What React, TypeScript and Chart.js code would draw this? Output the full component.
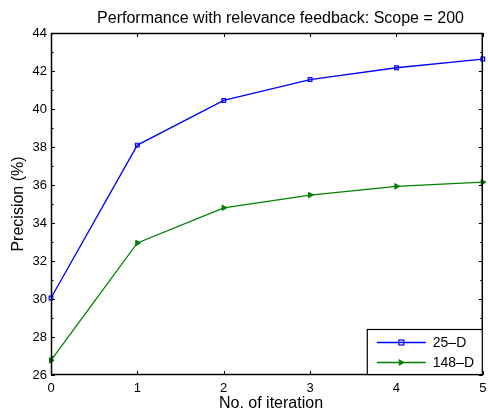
import React, { useEffect, useRef } from "react";
import { Chart, registerables } from "chart.js";

Chart.register(...registerables);

const iterations = [0, 1, 2, 3, 4, 5];
const precision25D = [30.05, 38.1, 40.45, 41.55, 42.17, 42.63];
const precision148D = [26.77, 32.95, 34.8, 35.47, 35.93, 36.15];
const seriesNames = ["25\u2013D", "148\u2013D"];
const yMin = 26;
const yMax = 44;
const yStep = 2;
const xMin = 0;
const xMax = 5;
const titleText = "Performance with relevance feedback: Scope = 200";
const xTitle = "No. of iteration";
const yTitle = "Precision (%)";

const FONT = '"Liberation Sans", Arial, Helvetica, sans-serif';
const BLUE = "#0000ff";
const GREEN = "#008000";

function drawSquare(ctx: CanvasRenderingContext2D, x: number, y: number, color: string) {
  ctx.save();
  ctx.strokeStyle = color;
  ctx.lineWidth = 1.2;
  ctx.strokeRect(x - 2.5, y - 2.5, 5, 5);
  ctx.restore();
}

function drawTri(ctx: CanvasRenderingContext2D, x: number, y: number, color: string) {
  ctx.save();
  ctx.fillStyle = color;
  ctx.beginPath();
  ctx.moveTo(x + 3.5, y);
  ctx.lineTo(x - 2.5, y - 3.5);
  ctx.lineTo(x - 2.5, y + 3.5);
  ctx.closePath();
  ctx.fill();
  ctx.restore();
}

const decorPlugin = {
  id: "decor",
  afterDraw(chart: any) {
    const ctx: CanvasRenderingContext2D = chart.ctx;
    const { left, right, top, bottom } = chart.chartArea;
    const xs = chart.scales.x;
    const ys = chart.scales.y;
    ctx.save();
    ctx.strokeStyle = "#000";
    ctx.lineWidth = 1.5;
    ctx.strokeRect(left + 0.5, top + 0.5, right - left - 1, bottom - top - 1);
    ctx.lineWidth = 1;
    ctx.beginPath();
    for (let v = xMin; v <= xMax; v++) {
      const px = Math.round(xs.getPixelForValue(v)) + 0.5;
      ctx.moveTo(px, bottom);
      ctx.lineTo(px, bottom - 4);
      ctx.moveTo(px, top);
      ctx.lineTo(px, top + 4);
    }
    for (let v = yMin; v <= yMax; v++) {
      const py = Math.round(ys.getPixelForValue(v)) + 0.5;
      const len = v % yStep === 0 ? 4 : 2.5;
      ctx.moveTo(left, py);
      ctx.lineTo(left + len, py);
      ctx.moveTo(right, py);
      ctx.lineTo(right - len, py);
    }
    ctx.stroke();

    ctx.fillStyle = "#000";
    ctx.font = `16px ${FONT}`;
    ctx.textAlign = "center";
    ctx.textBaseline = "alphabetic";
    ctx.fillText(titleText, 280.5, 23);
    ctx.fillText(xTitle, 271, 408);
    ctx.save();
    ctx.translate(23, (top + bottom) / 2);
    ctx.rotate(-Math.PI / 2);
    ctx.fillText(yTitle, 0, 0);
    ctx.restore();

    const lw = 116;
    const lh = 45;
    const lx = right - lw;
    const ly = bottom - lh - 1;
    ctx.fillStyle = "#fff";
    ctx.fillRect(lx, ly, lw, lh);
    ctx.strokeStyle = "#000";
    ctx.lineWidth = 1.2;
    ctx.strokeRect(lx + 0.5, ly + 0.5, lw - 1, lh);
    const colors = [BLUE, GREEN];
    seriesNames.forEach((name, i) => {
      const yy = ly + 13.5 + i * 20;
      ctx.strokeStyle = colors[i];
      ctx.lineWidth = 1.3;
      ctx.beginPath();
      ctx.moveTo(lx + 10, yy);
      ctx.lineTo(lx + 59, yy);
      ctx.stroke();
      if (i === 0) drawSquare(ctx, lx + 34.5, yy, BLUE);
      else drawTri(ctx, lx + 34.5, yy, GREEN);
      ctx.fillStyle = "#000";
      ctx.textAlign = "left";
      ctx.textBaseline = "middle";
      ctx.font = `14px ${FONT}`;
      ctx.fillText(name, lx + 66, yy + 1);
    });
    ctx.restore();
  },
};

export default function App() {
  const ref = useRef<HTMLCanvasElement>(null);
  useEffect(() => {
    if (!ref.current) return;
    const mk = (vals: number[]) => iterations.map((x, i) => ({ x, y: vals[i] }));
    const chart = new Chart(ref.current, {
      type: "line",
      data: {
        datasets: [
          {
            label: seriesNames[0],
            data: mk(precision25D),
            borderColor: BLUE,
            backgroundColor: "rgba(0,0,0,0)",
            borderWidth: 1.3,
            pointStyle: "rect",
            pointRadius: 2.6,
            pointBorderWidth: 1.2,
            pointBorderColor: BLUE,
            pointBackgroundColor: "rgba(0,0,0,0)",
            tension: 0,
            clip: false,
          } as any,
          {
            label: seriesNames[1],
            data: mk(precision148D),
            borderColor: GREEN,
            backgroundColor: GREEN,
            borderWidth: 1.3,
            pointStyle: "triangle",
            pointRotation: 90,
            pointRadius: 3.2,
            pointBorderWidth: 1,
            pointBorderColor: GREEN,
            pointBackgroundColor: GREEN,
            tension: 0,
            clip: false,
          } as any,
        ],
      },
      options: {
        animation: false,
        responsive: false,
        devicePixelRatio: 1,
        layout: { padding: { left: 0, right: 3, top: 33, bottom: 0 } },
        plugins: { legend: { display: false }, title: { display: false }, tooltip: { enabled: false } },
        scales: {
          x: {
            type: "linear",
            min: xMin,
            max: xMax,
            grid: { display: false, drawTicks: false },
            border: { display: false },
            ticks: {
              stepSize: 1,
              color: "#000",
              font: { family: FONT, size: 13 },
              padding: 6,
              maxRotation: 0,
            },
            afterFit: (s: any) => {
              s.height = 35;
              s.paddingLeft = 0;
              s.paddingRight = 0;
            },
          },
          y: {
            type: "linear",
            min: yMin,
            max: yMax,
            grid: { display: false, drawTicks: false },
            border: { display: false },
            ticks: {
              stepSize: yStep,
              color: "#000",
              font: { family: FONT, size: 13 },
              padding: 4,
            },
            afterFit: (s: any) => {
              s.width = 51;
              s.paddingTop = 0;
              s.paddingBottom = 0;
            },
          },
        },
      } as any,
      plugins: [decorPlugin],
    });
    return () => chart.destroy();
  }, []);
  return (
    <div style={{ position: "absolute", left: 0, top: 0, width: 488, height: 410, background: "#fff" }}>
      <canvas ref={ref} width={488} height={410} style={{ width: 488, height: 410, display: "block" }} />
    </div>
  );
}
